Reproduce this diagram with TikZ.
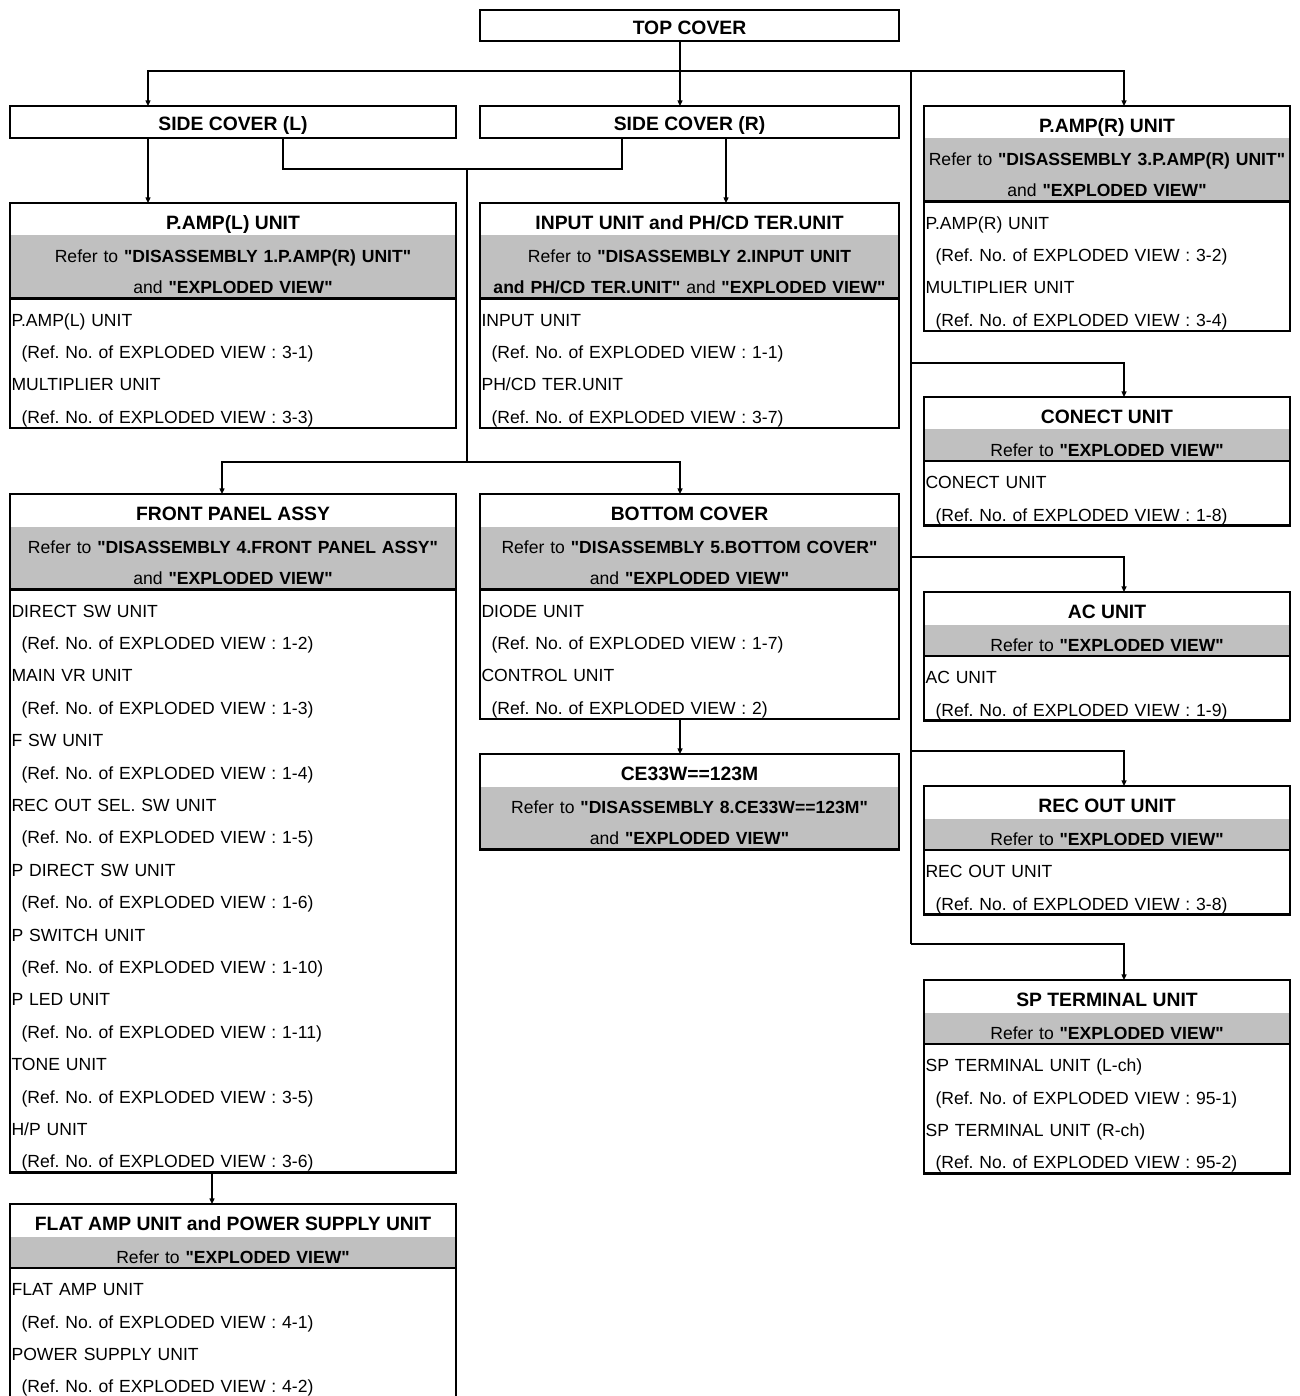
\documentclass[tikz,border=0pt]{standalone}
\usepackage{fontspec}
\setmainfont{Liberation Sans}[Ligatures=TeXOff]
\usetikzlibrary{arrows.meta,positioning}
\definecolor{refgray}{RGB}{192,192,192}
\newcommand{\refind}{\hspace*{0.2cm}}
\newcommand{\gs}{\rule[-2.6pt]{0pt}{0.63cm}}
\newcommand{\ls}{\rule[-2.7pt]{0pt}{0.648cm}}
\frenchspacing

\begin{document}
\begin{tikzpicture}[x=0.02cm, y=-0.02cm, >={Triangle[length=3.2pt,width=2.8pt]},
  every node/.style={inner sep=0pt, outer sep=0pt},
  plain/.style={draw, line width=1.6pt, anchor=north, font=\bfseries\fontsize{11}{13}\selectfont, text height=10.1pt, text depth=0pt},
  head/.style={anchor=north, minimum width=#1, minimum height=0.65cm, font=\bfseries\fontsize{11}{13}\selectfont, text height=11.5pt, text depth=0pt},
  refrow/.style={fill=refgray, align=center, text width=#1, font=\fontsize{10}{0.63cm}\selectfont},
  listrow/.style={align=left, text width=#1, inner xsep=0.03cm, font=\fontsize{10}{0.648cm}\selectfont},
  frame/.style={line width=1.6pt},
  wire/.style={line width=0.75pt},
  arr/.style={wire, ->},
  arrs/.style={wire, <->}]
\useasboundingbox (0,0) rectangle (1299,1396);

\node[plain, minimum width=8.38cm, minimum height=0.62cm] (top) at (689.5,10) {TOP COVER};
\node[plain, minimum width=8.92cm, minimum height=0.64cm] (sideL) at (233,106) {SIDE COVER (L)};
\node[plain, minimum width=8.38cm, minimum height=0.64cm] (sideR) at (689.5,106) {SIDE COVER (R)};

\node[head=8.92cm] (pampL) at (233,203) {P.AMP(L) UNIT};
\node[refrow=8.92cm, below=0pt of pampL] (pampLr) {\gs Refer to \textbf{"DISASSEMBLY 1.P.AMP(R) UNIT"}\\\gs and \textbf{"EXPLODED VIEW"}};
\node[listrow=8.86cm, below=0pt of pampLr] (pampLl) {\ls P.AMP(L) UNIT\\\ls\refind(Ref. No. of EXPLODED VIEW : 3-1)\\\ls MULTIPLIER UNIT\\\ls\refind(Ref. No. of EXPLODED VIEW : 3-3)};
\draw[frame] (pampL.north west) rectangle (pampLl.south east);
\draw[frame] (pampLl.north west) -- (pampLl.north east);

\node[head=8.38cm] (input) at (689.5,203) {INPUT UNIT and PH/CD TER.UNIT};
\node[refrow=8.38cm, below=0pt of input] (inputr) {\gs Refer to \textbf{"DISASSEMBLY 2.INPUT UNIT}\\\gs\textbf{and PH/CD TER.UNIT"} and \textbf{"EXPLODED VIEW"}};
\node[listrow=8.32cm, below=0pt of inputr] (inputl) {\ls INPUT UNIT\\\ls\refind(Ref. No. of EXPLODED VIEW : 1-1)\\\ls PH/CD TER.UNIT\\\ls\refind(Ref. No. of EXPLODED VIEW : 3-7)};
\draw[frame] (input.north west) rectangle (inputl.south east);
\draw[frame] (inputl.north west) -- (inputl.north east);

\node[head=7.32cm] (pampR) at (1107,106) {P.AMP(R) UNIT};
\node[refrow=7.32cm, below=0pt of pampR] (pampRr) {\gs Refer to \textbf{"DISASSEMBLY 3.P.AMP(R) UNIT"}\\\gs and \textbf{"EXPLODED VIEW"}};
\node[listrow=7.26cm, below=0pt of pampRr] (pampRl) {\ls P.AMP(R) UNIT\\\ls\refind(Ref. No. of EXPLODED VIEW : 3-2)\\\ls MULTIPLIER UNIT\\\ls\refind(Ref. No. of EXPLODED VIEW : 3-4)};
\draw[frame] (pampR.north west) rectangle (pampRl.south east);
\draw[frame] (pampRl.north west) -- (pampRl.north east);

\node[head=7.32cm] (conect) at (1107,397) {CONECT UNIT};
\node[refrow=7.32cm, below=0pt of conect] (conectr) {\gs Refer to \textbf{"EXPLODED VIEW"}};
\node[listrow=7.26cm, below=0pt of conectr] (conectl) {\ls CONECT UNIT\\\ls\refind(Ref. No. of EXPLODED VIEW : 1-8)};
\draw[frame] (conect.north west) rectangle (conectl.south east);
\draw[frame] (conectl.north west) -- (conectl.north east);

\node[head=7.32cm] (acu) at (1107,592) {AC UNIT};
\node[refrow=7.32cm, below=0pt of acu] (acur) {\gs Refer to \textbf{"EXPLODED VIEW"}};
\node[listrow=7.26cm, below=0pt of acur] (acul) {\ls AC UNIT\\\ls\refind(Ref. No. of EXPLODED VIEW : 1-9)};
\draw[frame] (acu.north west) rectangle (acul.south east);
\draw[frame] (acul.north west) -- (acul.north east);

\node[head=7.32cm] (recout) at (1107,786) {REC OUT UNIT};
\node[refrow=7.32cm, below=0pt of recout] (recoutr) {\gs Refer to \textbf{"EXPLODED VIEW"}};
\node[listrow=7.26cm, below=0pt of recoutr] (recoutl) {\ls REC OUT UNIT\\\ls\refind(Ref. No. of EXPLODED VIEW : 3-8)};
\draw[frame] (recout.north west) rectangle (recoutl.south east);
\draw[frame] (recoutl.north west) -- (recoutl.north east);

\node[head=7.32cm] (spterm) at (1107,980) {SP TERMINAL UNIT};
\node[refrow=7.32cm, below=0pt of spterm] (sptermr) {\gs Refer to \textbf{"EXPLODED VIEW"}};
\node[listrow=7.26cm, below=0pt of sptermr] (spterml) {\ls SP TERMINAL UNIT (L-ch)\\\ls\refind(Ref. No. of EXPLODED VIEW : 95-1)\\\ls SP TERMINAL UNIT (R-ch)\\\ls\refind(Ref. No. of EXPLODED VIEW : 95-2)};
\draw[frame] (spterm.north west) rectangle (spterml.south east);
\draw[frame] (spterml.north west) -- (spterml.north east);

\node[head=8.92cm] (front) at (233,494) {FRONT PANEL ASSY};
\node[refrow=8.92cm, below=0pt of front] (frontr) {\gs Refer to \textbf{"DISASSEMBLY 4.FRONT PANEL ASSY"}\\\gs and \textbf{"EXPLODED VIEW"}};
\node[listrow=8.86cm, below=0pt of frontr] (frontl) {\ls DIRECT SW UNIT\\\ls\refind(Ref. No. of EXPLODED VIEW : 1-2)\\
  \ls MAIN VR UNIT\\\ls\refind(Ref. No. of EXPLODED VIEW : 1-3)\\
  \ls F SW UNIT\\\ls\refind(Ref. No. of EXPLODED VIEW : 1-4)\\
  \ls REC OUT SEL. SW UNIT\\\ls\refind(Ref. No. of EXPLODED VIEW : 1-5)\\
  \ls P DIRECT SW UNIT\\\ls\refind(Ref. No. of EXPLODED VIEW : 1-6)\\
  \ls P SWITCH UNIT\\\ls\refind(Ref. No. of EXPLODED VIEW : 1-10)\\
  \ls P LED UNIT\\\ls\refind(Ref. No. of EXPLODED VIEW : 1-11)\\
  \ls TONE UNIT\\\ls\refind(Ref. No. of EXPLODED VIEW : 3-5)\\
  \ls H/P UNIT\\\ls\refind(Ref. No. of EXPLODED VIEW : 3-6)};
\draw[frame] (front.north west) rectangle (frontl.south east);
\draw[frame] (frontl.north west) -- (frontl.north east);

\node[head=8.38cm] (bottom) at (689.5,494) {BOTTOM COVER};
\node[refrow=8.38cm, below=0pt of bottom] (bottomr) {\gs Refer to \textbf{"DISASSEMBLY 5.BOTTOM COVER"}\\\gs and \textbf{"EXPLODED VIEW"}};
\node[listrow=8.32cm, below=0pt of bottomr] (bottoml) {\ls DIODE UNIT\\\ls\refind(Ref. No. of EXPLODED VIEW : 1-7)\\\ls CONTROL UNIT\\\ls\refind(Ref. No. of EXPLODED VIEW : 2)};
\draw[frame] (bottom.north west) rectangle (bottoml.south east);
\draw[frame] (bottoml.north west) -- (bottoml.north east);

\node[head=8.38cm] (ce) at (689.5,754) {CE33W==123M};
\node[refrow=8.38cm, below=0pt of ce] (cer) {\gs Refer to \textbf{"DISASSEMBLY 8.CE33W==123M"}\\\gs and \textbf{"EXPLODED VIEW"}};
\draw[frame] (ce.north west) rectangle (cer.south east);

\node[head=8.92cm] (flat) at (233,1204) {FLAT AMP UNIT and POWER SUPPLY UNIT};
\node[refrow=8.92cm, below=0pt of flat] (flatr) {\gs Refer to \textbf{"EXPLODED VIEW"}};
\node[listrow=8.86cm, below=0pt of flatr] (flatl) {\ls FLAT AMP UNIT\\\ls\refind(Ref. No. of EXPLODED VIEW : 4-1)\\\ls POWER SUPPLY UNIT\\\ls\refind(Ref. No. of EXPLODED VIEW : 4-2)};
\draw[frame] (flat.north west) rectangle (flatl.south east);
\draw[frame] (flatl.north west) -- (flatl.north east);

\coordinate (bL) at (148,71);
\coordinate (bT) at (680,71);
\coordinate (bR) at (1124,71);
\coordinate (bV) at (911,71);
\coordinate (c1) at (911,363);
\coordinate (c2) at (911,557);
\coordinate (c3) at (911,751);
\coordinate (c4) at (911,944);
\coordinate (jL) at (283,169);
\coordinate (jR) at (622,169);
\coordinate (jM) at (467,169);
\coordinate (jB) at (467,462);
\coordinate (kL) at (222,462);
\coordinate (kR) at (680,462);
\coordinate (xIn) at (726,169);
\coordinate (xFl) at (212,1188);

\draw[arrs] (sideL.north -| bL) |- (bR) -- (pampR.north -| bR);
\draw[arr] (top.south -| bT) -- (sideR.north -| bT);
\draw[wire] (bV) -- (c4);
\draw[arr] (c1) -| (conect.north -| bR);
\draw[arr] (c2) -| (acu.north -| bR);
\draw[arr] (c3) -| (recout.north -| bR);
\draw[arr] (c4) -| (spterm.north -| bR);
\draw[arr] (sideL.south -| bL) -- (pampL.north -| bL);
\draw[wire] (sideL.south -| jL) |- (jR) -- (sideR.south -| jR);
\draw[wire] (jM) -- (jB);
\draw[arr] (sideR.south -| xIn) -- (input.north -| xIn);
\draw[arrs] (front.north -| kL) |- (kR) -- (bottom.north -| kR);
\draw[arr] (bottoml.south -| kR) -- (ce.north -| kR);
\draw[arr] (frontl.south -| xFl) -- (flat.north -| xFl);
\end{tikzpicture}
\end{document}
